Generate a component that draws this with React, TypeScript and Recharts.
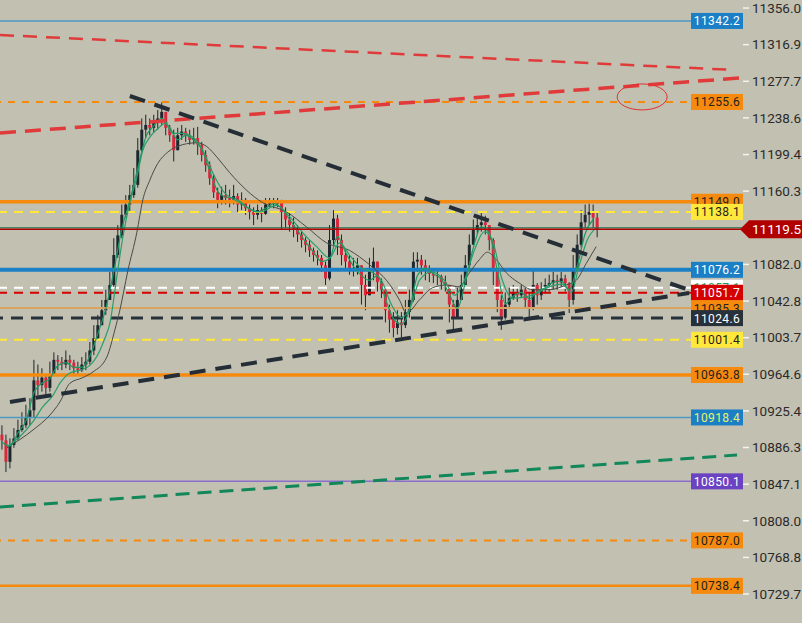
import React from 'react';
import {
  ComposedChart,
  Bar,
  Line,
  XAxis,
  YAxis,
  ReferenceLine,
  ReferenceDot,
} from 'recharts';

// candles (one bar per ~4px)
const closes = [
  10894, 10871, 10889, 10896, 10905, 10910, 10918, 10926, 10958, 10953,
  10961, 10950, 10964, 10980, 10978, 10975, 10980, 10977, 10971, 10969,
  10975, 10978, 10990, 11003, 11017, 11033, 11044, 11060, 11092, 11113,
  11135, 11146, 11156, 11167, 11204, 11226, 11231, 11228, 11234, 11238,
  11245, 11228, 11220, 11204, 11220, 11224, 11220, 11215, 11217, 11210,
  11199, 11188, 11174, 11159, 11151, 11156, 11153, 11151, 11155, 11146,
  11151, 11142, 11138, 11135, 11140, 11136, 11146, 11149, 11147, 11148,
  11138, 11130, 11124, 11119, 11114, 11108, 11103, 11097, 11092, 11089,
  11081, 11067, 11108, 11131, 11108, 11092, 11085, 11078, 11076, 11081,
  11060, 11049, 11076, 11085, 11063, 11055, 11033, 11023, 11014, 11020,
  11017, 11031, 11044, 11085, 11087, 11081, 11076, 11072, 11070, 11069,
  11063, 11060, 11039, 11025, 11044, 11060, 11081, 11103, 11119, 11124,
  11127, 11124, 11108, 11076, 11044, 11025, 11039, 11046, 11052, 11049,
  11055, 11044, 11035, 11060, 11049, 11055, 11060, 11062, 11065, 11063,
  11067, 11062, 11044, 11076, 11103, 11127, 11135, 11138, 11132, 11119.5,
];
const highs = [
  10910, 10900, 10896, 10907, 10916, 10924, 10932, 10939, 10980, 10975,
  10971, 10964, 10978, 10988, 10985, 10983, 10990, 10985, 10980, 10978,
  10983, 10988, 10999, 11017, 11028, 11044, 11055, 11074, 11110, 11124,
  11146, 11156, 11167, 11185, 11217, 11238, 11242, 11238, 11242, 11247,
  11255, 11242, 11231, 11226, 11228, 11231, 11228, 11226, 11228, 11229,
  11213, 11204, 11192, 11178, 11164, 11165, 11167, 11162, 11167, 11158,
  11159, 11153, 11146, 11143, 11146, 11143, 11153, 11153, 11153, 11153,
  11151, 11143, 11137, 11132, 11124, 11117, 11111, 11108, 11100, 11097,
  11092, 11085, 11124, 11140, 11135, 11114, 11097, 11092, 11089, 11089,
  11078, 11071, 11089, 11100, 11074, 11067, 11049, 11039, 11031, 11033,
  11031, 11044, 11055, 11095, 11095, 11092, 11087, 11081, 11078, 11076,
  11071, 11070, 11058, 11044, 11057, 11071, 11092, 11114, 11130, 11135,
  11137, 11134, 11124, 11110, 11071, 11049, 11052, 11057, 11060, 11058,
  11060, 11057, 11052, 11078, 11062, 11063, 11067, 11071, 11074, 11071,
  11074, 11071, 11063, 11092, 11114, 11140, 11146, 11147, 11146, 11138,
];
const lows = [
  10884, 10860, 10864, 10886, 10894, 10903, 10907, 10910, 10918, 10942,
  10946, 10940, 10946, 10967, 10969, 10969, 10971, 10969, 10964, 10964,
  10967, 10969, 10975, 10985, 11001, 11017, 11028, 11044, 11057, 11089,
  11110, 11132, 11138, 11153, 11164, 11202, 11217, 11220, 11223, 11226,
  11231, 11220, 11213, 11192, 11204, 11215, 11213, 11210, 11210, 11199,
  11192, 11181, 11167, 11153, 11142, 11146, 11146, 11143, 11146, 11138,
  11140, 11135, 11130, 11124, 11130, 11127, 11135, 11143, 11142, 11143,
  11119, 11121, 11117, 11111, 11106, 11100, 11095, 11090, 11085, 11081,
  11074, 11060, 11065, 11103, 11092, 11081, 11076, 11071, 11069, 11071,
  11039, 11033, 11055, 11065, 11053, 11046, 11020, 11009, 11004, 11007,
  11004, 11014, 11025, 11042, 11074, 11071, 11065, 11063, 11062, 11060,
  11055, 11053, 11020, 11012, 11031, 11044, 11060, 11078, 11103, 11114,
  11117, 11114, 11097, 11060, 11031, 11012, 11023, 11035, 11044, 11042,
  11046, 11035, 11025, 11033, 11039, 11044, 11051, 11053, 11055, 11055,
  11057, 11053, 11030, 11039, 11074, 11100, 11121, 11124, 11121, 11111,
];
const firstOpen = 10900;

// fast green average, one value every 2nd candle
const fastMa = [
  10892, 10888, 10902, 10915, 10945, 10955, 10960, 10974, 10977, 10972,
  10972, 10984, 11008, 11035, 11075, 11120, 11150, 11185, 11218, 11230,
  11238, 11228, 11215, 11220, 11215, 11205, 11182, 11160, 11154, 11153,
  11148, 11141, 11138, 11142, 11147, 11142, 11130, 11118, 11106, 11095,
  11085, 11088, 11112, 11095, 11080, 11070, 11065, 11070, 11045, 11024,
  11018, 11033, 11070, 11078, 11072, 11066, 11050, 11035, 11063, 11100,
  11122, 11115, 11075, 11040, 11048, 11052, 11045, 11053, 11057, 11063,
  11064, 11055, 11080, 11115, 11130,
];
// slow green average: [candle, price]
const slowMa = [
  [1.25, 10887], [4.5, 10898], [7.75, 10914], [10.25, 10930], [12.75, 10942],
  [14.5, 10955], [17, 10966], [19.5, 10969], [22, 10974], [24.5, 10990],
  [25.75, 11003], [27, 11019], [28.75, 11069], [30.25, 11111], [32, 11148],
  [33.75, 11175], [35.25, 11204], [37, 11218], [39.5, 11229], [40.75, 11233],
  [42.75, 11222], [45.25, 11222], [47.75, 11218], [50.25, 11204], [52.75, 11180],
  [55.25, 11161], [59.5, 11148], [64.5, 11138], [68.75, 11145], [72, 11133],
  [75.25, 11116], [78.75, 11101], [82, 11089], [84.5, 11105], [87, 11092],
  [90, 11078], [92.5, 11074], [95, 11065], [97.5, 11039], [100, 11025],
  [102.5, 11039], [104.5, 11065], [107.5, 11074], [110.75, 11065], [113.25, 11049],
  [115.75, 11065], [118.25, 11097], [120.75, 11117], [122.75, 11108], [125.25, 11065],
  [127.75, 11046], [130.75, 11047], [133.75, 11051], [137, 11058], [140.25, 11061],
  [142.5, 11052], [144.5, 11081], [146.5, 11108], [148.75, 11121],
];
// long grey average: [candle, price]
const longMa = [
  [1.25, 10886], [7.75, 10905], [12, 10921], [14.5, 10935], [17, 10955],
  [20.25, 10961], [22.75, 10967], [26.25, 10983], [28.25, 11012], [29.5, 11033],
  [31.5, 11075], [33.75, 11116], [35.25, 11151], [37, 11172], [39, 11190],
  [41.5, 11202], [45.25, 11210], [48.75, 11212], [51.25, 11208], [53.75, 11197],
  [57, 11180], [65.25, 11148], [71.25, 11138], [76.25, 11122], [81.25, 11105],
  [87, 11097], [89.5, 11090], [92.75, 11079], [96.25, 11065], [99.5, 11044],
  [101.25, 11030], [104.5, 11044], [107.75, 11057], [111.25, 11060], [114.5, 11058],
  [117, 11073], [119.5, 11087], [121.5, 11095], [123.75, 11087], [126.25, 11073],
  [129.5, 11062], [132.75, 11055], [137, 11055], [141.25, 11060], [143.75, 11065],
  [146.25, 11083], [148.75, 11101],
];

const priceTicks = [
  11356.0, 11316.9, 11277.7, 11238.6, 11199.4, 11160.3, 11082.0, 11042.8,
  11003.7, 10964.6, 10925.4, 10886.3, 10847.1, 10808.0, 10768.8, 10729.7,
];
const levelPrices = [
  11342.2, 11255.6, 11149.0, 11138.1, 11076.2, 11057.1, 11051.7, 11035.3,
  11024.6, 11001.4, 10963.8, 10918.4, 10850.1, 10787.0, 10738.4,
];
const lastPrice = 11119.5;
// drawn trend lines: [fromCandle, fromPrice, toCandle, toPrice]
const trendLines = [
  [-0.5, 11327.2, 183.25, 11289.8],
  [-0.5, 11222.4, 184.5, 11281.2],
  [32, 11262.0, 172, 11054.6],
  [2, 10935.0, 172, 11051.4],
  [-0.5, 10822.7, 184, 10878.3],
];
const circleMark = { x: 160.25, y: 11261 };

const BG = '#c2c0b1';
const BLUE = '#1b7fc6';
const ORANGE = '#f68a0f';
const YELLOW = '#ffe83b';
const FONT = 'Roboto, "DejaVu Sans", sans-serif';

const levelLook: any[] = [
  { stroke: '#4c9ac4', width: 1.5, bg: BLUE, fg: '#fff' },
  { stroke: ORANGE, width: 2, dash: '7 7', bg: ORANGE, fg: '#222' },
  { stroke: ORANGE, width: 3.5, bg: ORANGE, fg: '#222' },
  { stroke: YELLOW, width: 2, dash: '9 7', bg: YELLOW, fg: '#222' },
  { stroke: BLUE, width: 4, bg: BLUE, fg: '#fff' },
  { stroke: '#ffffff', width: 2, dash: '9 7', bg: '#ffffff', fg: '#1a9e62' },
  { stroke: '#d40000', width: 2, dash: '9 7', bg: '#d40000', fg: '#fff' },
  { stroke: '#d9a35f', width: 2, bg: ORANGE, fg: '#222' },
  { stroke: '#27313b', width: 3, dash: '12 8', bg: '#27313b', fg: '#fff' },
  { stroke: YELLOW, width: 2, dash: '9 7', bg: YELLOW, fg: '#222' },
  { stroke: ORANGE, width: 3.5, bg: ORANGE, fg: '#222' },
  { stroke: '#4c9ac4', width: 1.5, bg: BLUE, fg: '#e8f06a' },
  { stroke: '#8b6fcf', width: 1.5, bg: '#6b43c2', fg: '#fff' },
  { stroke: ORANGE, width: 2, dash: '7 7', bg: ORANGE, fg: '#222' },
  { stroke: ORANGE, width: 2.5, bg: ORANGE, fg: '#222' },
];
const trendLook: any[] = [
  { stroke: '#e03a3a', width: 2.5, dash: '14 9' },
  { stroke: '#e03a3a', width: 3.5, dash: '16 9' },
  { stroke: '#252e37', width: 4, dash: '16 10' },
  { stroke: '#252e37', width: 4, dash: '16 10' },
  { stroke: '#11875a', width: 3, dash: '14 8' },
];

const candles = closes.map((c, i) => {
  const o = i === 0 ? firstOpen : closes[i - 1];
  return { x: i, o, c, h: Math.max(highs[i], o, c), l: Math.min(lows[i], o, c) };
});
const fastData = fastMa.map((v, k) => ({ x: k * 2, v }));
const slowData = slowMa.map(([x, v]) => ({ x, v }));
const longData = longMa.map(([x, v]) => ({ x, v }));

const Candle = (props: any) => {
  const { x, y, width, height, payload } = props;
  if (!payload) return null;
  const top = Math.min(y, y + height);
  const h = Math.abs(height);
  const { o, c } = payload;
  const hi = payload.h;
  const lo = payload.l;
  const py = (v: number) => (hi === lo ? top : top + ((hi - v) / (hi - lo)) * h);
  const cx = x + width / 2;
  const bTop = py(Math.max(o, c));
  const bBot = py(Math.min(o, c));
  return (
    <g>
      <line x1={cx} x2={cx} y1={top} y2={top + h} stroke="#1e272f" strokeWidth={1} />
      <rect
        x={cx - 1.5}
        y={bTop}
        width={3}
        height={Math.max(1, bBot - bTop)}
        fill={c >= o ? '#1e272f' : '#d9283b'}
      />
    </g>
  );
};

const Tag = ({ viewBox, text, bg, fg }: any) => {
  if (!viewBox) return null;
  const right = viewBox.x + viewBox.width;
  const y = viewBox.y;
  return (
    <g>
      <rect x={right - 52} y={y - 8} width={52} height={16} fill={bg} />
      <text
        x={right - 26}
        y={y + 4.5}
        textAnchor="middle"
        fontSize={12}
        fill={fg}
        fontFamily={FONT}
        letterSpacing={0.4}
      >
        {text}
      </text>
    </g>
  );
};

const LastTag = ({ viewBox, text }: any) => {
  if (!viewBox) return null;
  const right = viewBox.x + viewBox.width;
  const y = viewBox.y;
  return (
    <g>
      <polygon
        points={`${right - 3},${y} ${right + 6},${y - 9} ${right + 59},${y - 9} ${right + 59},${y + 9} ${right + 6},${y + 9}`}
        fill="#b00000"
      />
      <text x={right + 9} y={y + 5} fontSize={13.5} fill="#fff" fontFamily={FONT}>
        {text}
      </text>
    </g>
  );
};

const PriceLine = (props: any) => {
  const { x1, x2, y1 } = props;
  return (
    <g>
      <line x1={x1} x2={x2} y1={y1 - 1.5} y2={y1 - 1.5} stroke="#17704a" strokeWidth={1} />
      <line x1={x1} x2={x2} y1={y1} y2={y1} stroke="#b00000" strokeWidth={1.5} />
    </g>
  );
};

const Ellipse = (props: any) => (
  <ellipse cx={props.cx} cy={props.cy} rx={25} ry={13} fill="none" stroke="#e03030" strokeWidth={1} />
);

const App: React.FC = () => {
  return (
    <div style={{ position: 'absolute', left: 0, top: 0, width: 802, height: 623, background: BG }}>
      <ComposedChart
        width={802}
        height={623}
        data={candles}
        margin={{ top: 0, right: 0, bottom: 0, left: 0 }}
      >
        <XAxis dataKey="x" type="number" domain={[-0.5, 185.5]} hide allowDataOverflow />
        <YAxis
          orientation="right"
          width={59}
          domain={[10698.7, 11364.6]}
          allowDataOverflow
          ticks={priceTicks}
          interval={0}
          tickFormatter={(v: number) => v.toFixed(1)}
          axisLine={false}
          tickLine={{ stroke: '#f4f4f0', strokeWidth: 1.5 }}
          tickSize={6}
          tickMargin={3}
          tick={{ fontSize: 13.5, fill: '#2a2a2a', fontFamily: FONT }}
        />

        {levelPrices.map((p, i) => {
          const s = levelLook[i];
          return (
            <ReferenceLine
              key={'lvl' + i}
              y={p}
              stroke={s.stroke}
              strokeWidth={s.width}
              strokeDasharray={s.dash}
              label={<Tag text={p.toFixed(1)} bg={s.bg} fg={s.fg} />}
            />
          );
        })}

        <Bar
          dataKey={(d: any) => [d.l, d.h]}
          barSize={3}
          shape={<Candle />}
          isAnimationActive={false}
        />
        <Line
          data={longData}
          dataKey="v"
          type="monotone"
          stroke="#4a4a46"
          strokeWidth={1}
          dot={false}
          activeDot={false}
          isAnimationActive={false}
        />
        <Line
          data={slowData}
          dataKey="v"
          type="monotone"
          stroke="#2a9d6c"
          strokeWidth={1.2}
          dot={false}
          activeDot={false}
          isAnimationActive={false}
        />
        <Line
          data={fastData}
          dataKey="v"
          type="monotone"
          stroke="#1c9a62"
          strokeWidth={1.2}
          dot={false}
          activeDot={false}
          isAnimationActive={false}
        />

        <ReferenceLine
          y={lastPrice}
          shape={<PriceLine />}
          label={<LastTag text={lastPrice.toFixed(1)} />}
        />

        {trendLines.map((t, i) => {
          const s = trendLook[i];
          return (
            <ReferenceLine
              key={'tr' + i}
              segment={[
                { x: t[0], y: t[1] },
                { x: t[2], y: t[3] },
              ]}
              stroke={s.stroke}
              strokeWidth={s.width}
              strokeDasharray={s.dash}
              ifOverflow="visible"
            />
          );
        })}
        <ReferenceDot x={circleMark.x} y={circleMark.y} shape={<Ellipse />} />
      </ComposedChart>
    </div>
  );
};

export default App;
